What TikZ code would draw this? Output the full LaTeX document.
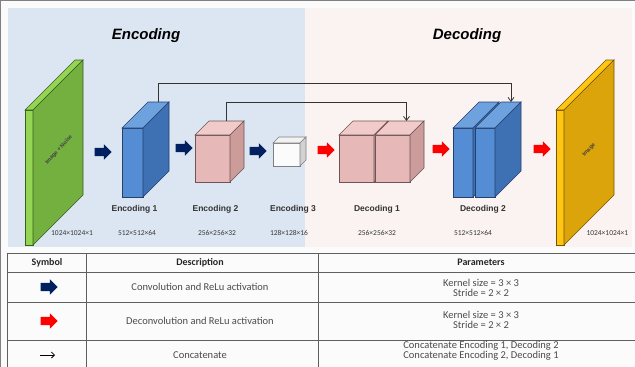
\documentclass[tikz,border=0pt]{standalone}
\usepackage{fontspec}
\setmainfont{Carlito}
\newfontfamily\headfont{Liberation Sans}
\usetikzlibrary{shapes.arrows,calc,arrows.meta}

\definecolor{panelblue}{RGB}{220,230,242}
\definecolor{panelpink}{RGB}{250,243,242}
\definecolor{bluefront}{RGB}{84,141,212}
\definecolor{bluetop}{RGB}{110,162,222}
\definecolor{blueside}{RGB}{62,112,180}
\definecolor{blueline}{RGB}{38,64,110}
\definecolor{pinkfront}{RGB}{230,185,184}
\definecolor{pinktop}{RGB}{240,203,201}
\definecolor{pinkside}{RGB}{204,156,155}
\definecolor{pinkline}{RGB}{110,84,84}
\definecolor{greenfront}{RGB}{150,212,84}
\definecolor{greenside}{RGB}{116,176,64}
\definecolor{greenline}{RGB}{56,96,28}
\definecolor{goldfront}{RGB}{255,198,20}
\definecolor{goldside}{RGB}{218,164,10}
\definecolor{goldline}{RGB}{120,86,0}
\definecolor{convnavy}{RGB}{0,32,96}
\definecolor{deconvred}{RGB}{255,0,0}
\definecolor{tabline}{RGB}{95,95,95}
\definecolor{txtgrey}{RGB}{55,55,55}

% top and side faces of a block; #1 front node, #2 depth, #3 colour set
\newcommand{\blockfaces}[3]{%
  \filldraw[#3top] (#1.north west) -- ++(#2,-#2) -- ++($(#1.north east)-(#1.north west)$)
    -- (#1.north east) -- cycle;
  \filldraw[#3side] (#1.north east) -- ++(#2,-#2) -- ++($(#1.south east)-(#1.north east)$)
    -- (#1.south east) -- cycle;
}

\tikzset{
  block/.style={inner sep=0pt, outer sep=0pt, line width=0.6pt},
  blue/.style={block, draw=blueline, fill=bluefront},
  bluetop/.style={draw=blueline, fill=bluetop, line width=0.6pt},
  blueside/.style={draw=blueline, fill=blueside, line width=0.6pt},
  pink/.style={block, draw=pinkline, fill=pinkfront},
  pinktop/.style={draw=pinkline, fill=pinktop, line width=0.6pt},
  pinkside/.style={draw=pinkline, fill=pinkside, line width=0.6pt},
  white/.style={block, draw=gray, fill=gray!3},
  whitetop/.style={draw=gray, fill=gray!10, line width=0.6pt},
  whiteside/.style={draw=gray, fill=gray!35, line width=0.6pt},
  green/.style={block, draw=greenline, fill=greenfront},
  greentop/.style={draw=greenline, fill=greenfront, line width=0.6pt},
  greenside/.style={draw=greenline, fill=greenside, line width=0.6pt},
  gold/.style={block, draw=goldline, fill=goldfront},
  goldtop/.style={draw=goldline, fill=goldfront, line width=0.6pt},
  goldside/.style={draw=goldline, fill=goldside, line width=0.6pt},
  slabtext/.style={font=\headfont\bfseries\fontsize{5.5}{6}\selectfont, text=black!75, rotate=48, inner sep=0pt},
  fatarrow/.style={single arrow, inner sep=4pt, minimum height=17pt, minimum width=15pt,
    single arrow head extend=3.5pt, single arrow head indent=0pt, outer sep=0pt},
  conv/.style={fatarrow, fill=convnavy},
  deconv/.style={fatarrow, fill=deconvred},
  skip/.style={draw=black!80, line width=0.8pt, -{Straight Barb[length=4pt,width=6pt]}},
  title/.style={font=\headfont\bfseries\itshape\fontsize{15}{17}\selectfont},
  stage/.style={font=\headfont\bfseries\fontsize{8.5}{10}\selectfont, text=black!80},
  dims/.style={font=\fontsize{7.5}{9}\selectfont, text=txtgrey},
  cell/.style={font=\fontsize{10.5}{10}\selectfont, text=black!70, align=center},
  head/.style={font=\bfseries\fontsize{10}{11}\selectfont, text=black!85}
}

\begin{document}
\begin{tikzpicture}[x=1pt,y=-1pt]
    \useasboundingbox (0,0) rectangle (635,367);
    \fill[white] (0,0) rectangle (635,367);

    % panels
    \fill[panelblue] (8,8) rectangle (305,247);
    \fill[panelpink] (305,8) rectangle (632,247);
    \node[title] (enct) at (146,36) {Encoding};
    \node[title] (dect) at (467,36) {Decoding};

    % input image
    \node[green, minimum width=8pt, minimum height=135pt] (inp) at (29,177.5) {};
    \blockfaces{inp}{50}{green}
    \node[slabtext] (inpt) at (59,150) {Image + Noise};

    % encoder
    \node[blue, minimum width=21pt, minimum height=69pt] (enc1) at (132.5,162.5) {};
    \blockfaces{enc1}{26}{blue}
    \node[pink, minimum width=35pt, minimum height=47pt] (enc2) at (212.5,158.5) {};
    \blockfaces{enc2}{14}{pink}
    \node[white, minimum width=27pt, minimum height=23pt] (enc3) at (286.5,154.5) {};
    \blockfaces{enc3}{6}{white}

    % decoder
    \node[pink, minimum width=35pt, minimum height=47pt] (dec1a) at (356.5,158.5) {};
    \blockfaces{dec1a}{14}{pink}
    \node[pink, minimum width=35pt, minimum height=47pt] (dec1b) at (392.5,158.5) {};
    \blockfaces{dec1b}{14}{pink}
    \node[blue, minimum width=20pt, minimum height=69pt] (dec2a) at (463,162.5) {};
    \blockfaces{dec2a}{26}{blue}
    \node[blue, minimum width=20pt, minimum height=69pt] (dec2b) at (485,162.5) {};
    \blockfaces{dec2b}{26}{blue}

    % output image
    \node[gold, minimum width=8pt, minimum height=135pt] (out) at (560,177.5) {};
    \blockfaces{out}{50}{gold}
    \node[slabtext] (outt) at (589,150) {Image};

    % block arrows
    \node[conv] (a1) at (101,152) {};
    \node[conv] (a2) at (182,148) {};
    \node[conv] (a3) at (256,151) {};
    \node[deconv] (a4) at (324,150) {};
    \node[deconv] (a5) at (439,149) {};
    \node[deconv] (a6) at (540,149) {};

    % skip connections
    \coordinate (e1top) at ($(enc1.north)+(26,-26)$);
    \coordinate (e2top) at ($(enc2.north)+(14,-14)$);
    \coordinate (d1top) at ($(dec1b.north)+(14,-14)$);
    \coordinate (d2top) at ($(dec2b.north)+(26,-26)$);
    \draw[skip] (e1top) -- (e1top |- 0,83) -| (d2top);
    \draw[skip] (e2top) -- (e2top |- 0,102) -| (d1top);

    % stage names and sizes
    \node[stage] (l1) at (134.5,209) {Encoding 1};
    \node[stage] (l2) at (215.5,209) {Encoding 2};
    \node[stage] (l3) at (293,209) {Encoding 3};
    \node[stage] (l4) at (377,209) {Decoding 1};
    \node[stage] (l5) at (483,209) {Decoding 2};
    \node[dims] (s0) at (72,233) {1024×1024×1};
    \node[dims] (s1) at (137,233) {512×512×64};
    \node[dims] (s2) at (217,233) {256×256×32};
    \node[dims] (s3) at (289,233) {128×128×16};
    \node[dims] (s4) at (377,233) {256×256×32};
    \node[dims] (s5) at (473,233) {512×512×64};
    \node[dims, anchor=west] (s6) at (583,233) {1024×1024×1};

    % legend table
    \draw[tabline, line width=1pt] (7,253) -- (635,253);
    \foreach \y in {272,302,340} {
      \draw[tabline, line width=0.6pt] (7,\y) -- (635,\y);
    }
    \foreach \x in {7,86,318} {
      \draw[tabline, line width=0.6pt] (\x,253) -- (\x,367);
    }
    \node[head] (h1) at (47,262.5) {Symbol};
    \node[head] (h2) at (200,262.5) {Description};
    \node[head] (h3) at (481,262.5) {Parameters};

    \node[conv] (k1) at (47,287) {};
    \node[cell] (c1) at (200,287) {Convolution and ReLu activation};
    \node[cell] (p1) at (481,287.5) {Kernel size = 3 × 3\\Stride = 2 × 2};

    \node[deconv] (k2) at (47,321) {};
    \node[cell] (c2) at (200,321) {Deconvolution and ReLu activation};
    \node[cell] (p2) at (481,320) {Kernel size = 3 × 3\\Stride = 2 × 2};

    \coordinate (k3a) at (40,355);
    \coordinate (k3b) at (55,355);
    \draw[black, line width=0.8pt, -{Straight Barb[length=3pt,width=6pt]}] (k3a) -- (k3b);
    \node[cell] (c3) at (200,355) {Concatenate};
    \node[cell] (p3) at (481,351) {Concatenate Encoding 1, Decoding 2\\Concatenate Encoding 2, Decoding 1};
\end{tikzpicture}
\end{document}
